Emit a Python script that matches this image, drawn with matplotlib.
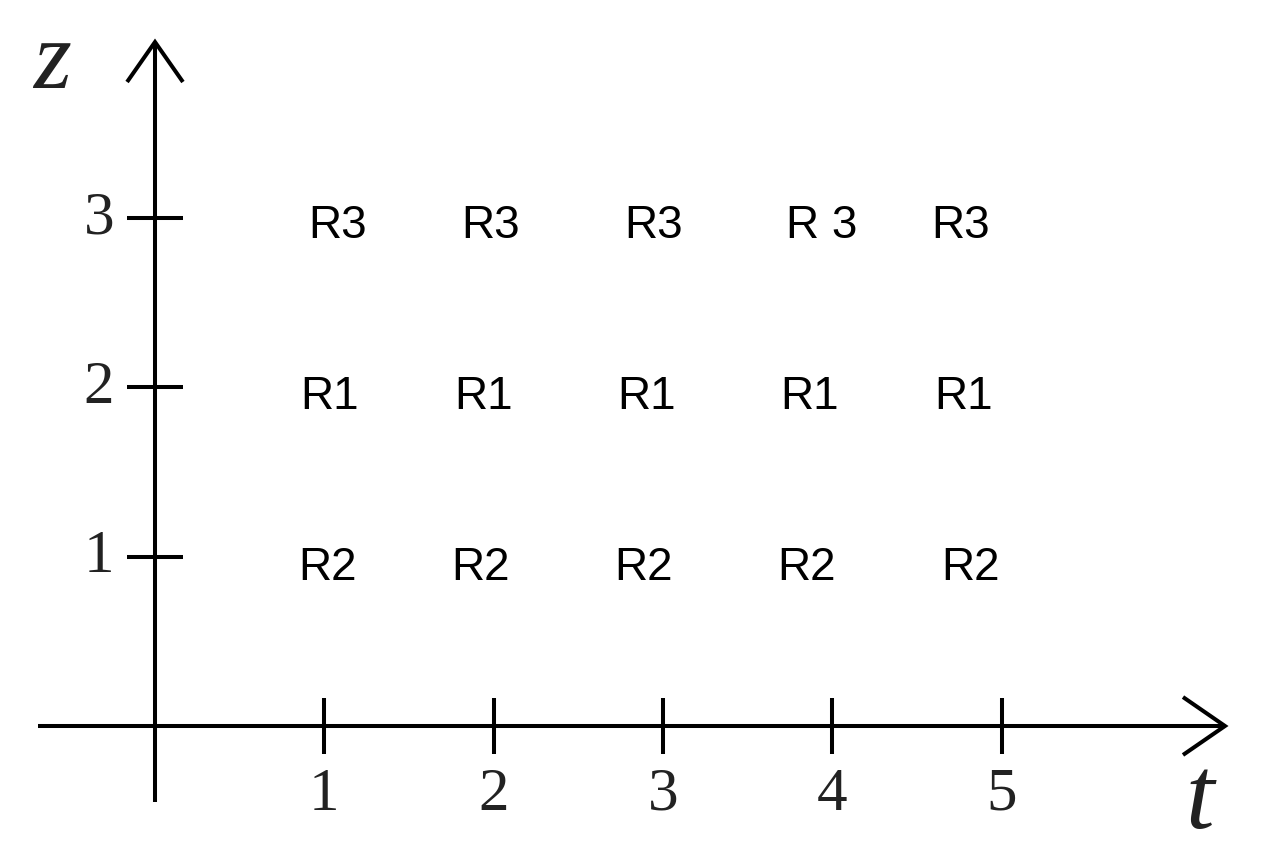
import matplotlib
matplotlib.use("Agg")
import matplotlib.pyplot as plt

# ---- data ----
t_ticks = [1, 2, 3, 4, 5]
z_ticks = [1, 2, 3]
t_tick_labels = ["1", "2", "3", "4", "5"]
z_tick_labels = ["1", "2", "3"]

row_levels = [3, 2, 1]                      # z level of each label row
row_labels = [["R3", "R3", "R3", "R 3", "R3"],
              ["R1", "R1", "R1", "R1", "R1"],
              ["R2", "R2", "R2", "R2", "R2"]]
row_t_pos = [[1.081, 1.985, 2.947, 3.940, 4.761],
             [1.034, 1.943, 2.906, 3.869, 4.778],
             [1.016, 1.920, 2.888, 3.851, 4.814]]
row_baseline_offset = [-0.118, -0.128, -0.138]

t_axis_range = (-0.691, 6.320)
z_axis_range = (-0.449, 4.040)

# ---- figure ----
W, H, DPI = 1282, 866, 100
fig = plt.figure(figsize=(W / DPI, H / DPI), dpi=DPI)
ax = fig.add_axes([0, 0, 1, 1])
unit = 169.3
ox, oy = 155, 726
ax.set_xlim(-ox / unit, (W - ox) / unit)
ax.set_ylim(-(H - oy) / unit, oy / unit)
ax.axis("off")

lw = 2.9
k = "black"
# axes lines
ax.plot(t_axis_range, [0, 0], color=k, lw=lw, solid_capstyle="butt")
ax.plot([0, 0], z_axis_range, color=k, lw=lw, solid_capstyle="butt")
# arrow heads (open chevrons)
tx = t_axis_range[1]
ax.plot([tx - 0.248, tx, tx - 0.248], [0.171, 0, -0.171], color=k, lw=lw,
        solid_joinstyle="miter", solid_capstyle="butt")
zy = z_axis_range[1]
ax.plot([-0.165, 0, 0.165], [zy - 0.236, zy, zy - 0.236], color=k, lw=lw,
        solid_joinstyle="miter", solid_capstyle="butt")

# ticks
tl = 0.165
for t, lab in zip(t_ticks, t_tick_labels):
    ax.plot([t, t], [-tl, tl], color=k, lw=lw, solid_capstyle="butt")
    ax.text(t, -0.496, lab, ha="center", va="baseline",
            family="Liberation Serif", fontsize=44, color="#222222")
for z, lab in zip(z_ticks, z_tick_labels):
    ax.plot([-tl, tl], [z, z], color=k, lw=lw, solid_capstyle="butt")
    ax.text(-0.331, z - 0.093, lab, ha="center", va="baseline",
            family="Liberation Serif", fontsize=44, color="#222222")

# axis names
ax.text(-0.608, 3.904, "z", ha="center", va="center", family="Liberation Serif",
        style="italic", fontsize=70, color="#222222")
ax.text(6.172, -0.455, "t", ha="center", va="center", family="Liberation Serif",
        style="italic", fontsize=74, color="#222222")

# region labels
for lvl, labs, xs, off in zip(row_levels, row_labels, row_t_pos, row_baseline_offset):
    for lab, x in zip(labs, xs):
        ax.text(x, lvl + off, lab, ha="center", va="baseline",
                family="Liberation Sans", fontsize=33, color="black")

fig.savefig("out.png", dpi=DPI)
